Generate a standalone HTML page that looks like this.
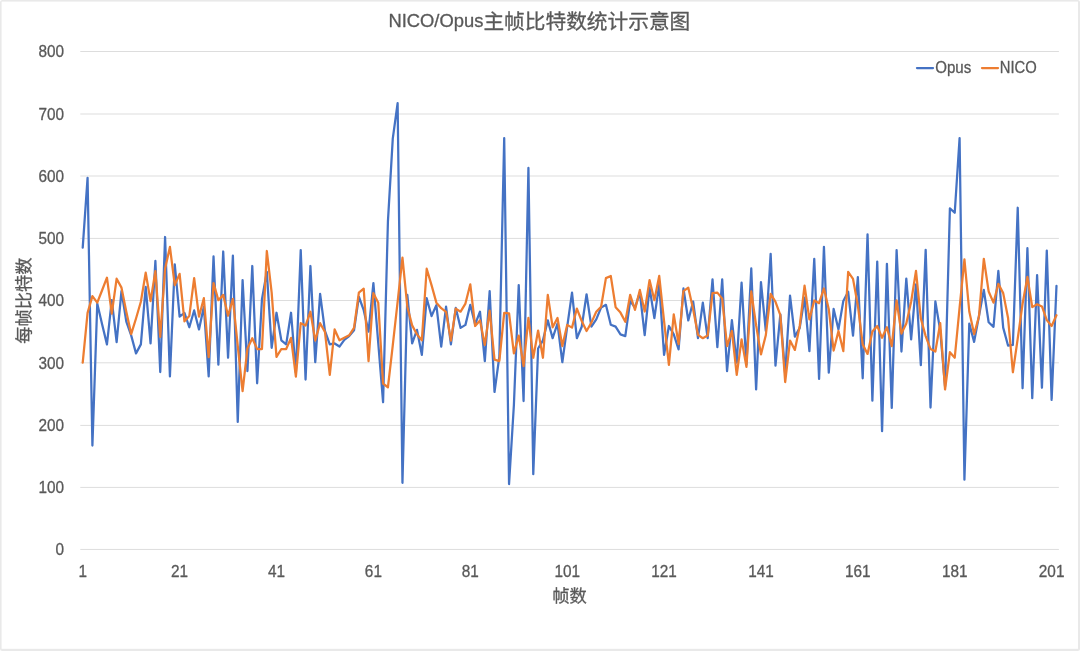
<!DOCTYPE html>
<html lang="zh">
<head>
<meta charset="utf-8">
<title>NICO/Opus主帧比特数统计示意图</title>
<style>
html, body { margin: 0; padding: 0; background: #ffffff; }
body { width: 1080px; height: 651px; overflow: hidden; position: relative;
  font-family: "Liberation Sans", "Noto Sans CJK SC", sans-serif; }
svg { position: absolute; left: 0; top: 0; display: block; }
svg text { font-family: "Liberation Sans", "Noto Sans CJK SC", sans-serif; fill: #595959; stroke: #595959; stroke-width: 0.3px; stroke-linejoin: round; }
.grid line { stroke: #dddddd; stroke-width: 1; }
.ylab text { font-size: 16.4px; text-anchor: end; }
.xlab text { font-size: 16.4px; text-anchor: middle; }
.cjk { font-size: 17.3px; text-anchor: middle; }
.series { fill: none; stroke-width: 2.25; stroke-linejoin: round; stroke-linecap: round; }
.opus { stroke: #4472c4; }
.nico { stroke: #ed7d31; }
.key { stroke-width: 2.3; stroke-linecap: round; }
.legend text { font-size: 16.4px; }
</style>
</head>
<body>
<svg width="1080" height="651" viewBox="0 0 1080 651" role="img" aria-label="NICO/Opus主帧比特数统计示意图">
<rect x="0" y="0" width="1080" height="651" fill="#ffffff"/>
<rect x="0" y="0" width="1080" height="651" rx="2.5" ry="2.5" fill="#e9e9e9"/>
<rect x="1.6" y="1.6" width="1076.4" height="647.2" fill="#ffffff"/>
<g class="grid">
<line x1="80.3" y1="51.50" x2="1058.9" y2="51.50"/>
<line x1="80.3" y1="114.00" x2="1058.9" y2="114.00"/>
<line x1="80.3" y1="176.00" x2="1058.9" y2="176.00"/>
<line x1="80.3" y1="238.40" x2="1058.9" y2="238.40"/>
<line x1="80.3" y1="300.50" x2="1058.9" y2="300.50"/>
<line x1="80.3" y1="362.80" x2="1058.9" y2="362.80"/>
<line x1="80.3" y1="425.40" x2="1058.9" y2="425.40"/>
<line x1="80.3" y1="487.40" x2="1058.9" y2="487.40"/>
<line x1="80.3" y1="549.45" x2="1058.9" y2="549.45"/>
</g>
<g class="ylab">
<text x="64.1" y="57.25" textLength="25.59" lengthAdjust="spacingAndGlyphs">800</text>
<text x="64.1" y="119.75" textLength="25.59" lengthAdjust="spacingAndGlyphs">700</text>
<text x="64.1" y="181.75" textLength="25.59" lengthAdjust="spacingAndGlyphs">600</text>
<text x="64.1" y="244.15" textLength="25.59" lengthAdjust="spacingAndGlyphs">500</text>
<text x="64.1" y="306.25" textLength="25.59" lengthAdjust="spacingAndGlyphs">400</text>
<text x="64.1" y="368.55" textLength="25.59" lengthAdjust="spacingAndGlyphs">300</text>
<text x="64.1" y="431.15" textLength="25.59" lengthAdjust="spacingAndGlyphs">200</text>
<text x="64.1" y="493.15" textLength="25.59" lengthAdjust="spacingAndGlyphs">100</text>
<text x="64.1" y="555.20" textLength="8.53" lengthAdjust="spacingAndGlyphs">0</text>
</g>
<g class="xlab">
<text x="82.72" y="577.3" textLength="8.53" lengthAdjust="spacingAndGlyphs">1</text>
<text x="179.61" y="577.3" textLength="17.06" lengthAdjust="spacingAndGlyphs">21</text>
<text x="276.50" y="577.3" textLength="17.06" lengthAdjust="spacingAndGlyphs">41</text>
<text x="373.40" y="577.3" textLength="17.06" lengthAdjust="spacingAndGlyphs">61</text>
<text x="470.29" y="577.3" textLength="17.06" lengthAdjust="spacingAndGlyphs">81</text>
<text x="567.18" y="577.3" textLength="25.59" lengthAdjust="spacingAndGlyphs">101</text>
<text x="664.07" y="577.3" textLength="25.59" lengthAdjust="spacingAndGlyphs">121</text>
<text x="760.96" y="577.3" textLength="25.59" lengthAdjust="spacingAndGlyphs">141</text>
<text x="857.85" y="577.3" textLength="25.59" lengthAdjust="spacingAndGlyphs">161</text>
<text x="954.74" y="577.3" textLength="25.59" lengthAdjust="spacingAndGlyphs">181</text>
<text x="1051.63" y="577.3" textLength="25.59" lengthAdjust="spacingAndGlyphs">201</text>
</g>
<text class="title" x="388.4" y="27.3"><tspan font-size="18.6" textLength="95" lengthAdjust="spacingAndGlyphs">NICO/Opus</tspan><tspan font-size="20.7" x="483.4" dy="1.8">主帧比特数统计示意图</tspan></text>
<text class="cjk" x="569.5" y="601.7">帧数</text>
<text class="cjk" transform="translate(29.9,300.6) rotate(-90)">每帧比特数</text>
<g class="legend">
<line class="key opus" x1="917" y1="68.1" x2="933" y2="68.1"/>
<text x="935.2" y="73.1" textLength="36" lengthAdjust="spacingAndGlyphs">Opus</text>
<line class="key nico" x1="982" y1="68.1" x2="998" y2="68.1"/>
<text x="999.8" y="73.1" textLength="37" lengthAdjust="spacingAndGlyphs">NICO</text>
</g>
<polyline class="series opus" points="82.72,247.58 87.57,177.87 92.41,445.51 97.26,303.60 102.10,324.14 106.95,344.37 111.79,300.17 116.63,342.19 121.48,291.15 126.32,321.65 131.17,335.34 136.01,353.39 140.86,344.37 145.70,286.79 150.55,343.43 155.39,260.96 160.24,372.06 165.08,237.00 169.92,376.42 174.77,264.39 179.61,316.67 184.46,312.93 189.30,327.25 194.15,310.44 198.99,329.43 203.84,306.71 208.68,376.42 213.53,256.48 218.37,364.59 223.21,251.50 228.06,357.75 232.90,255.67 237.75,421.86 242.59,280.13 247.44,371.07 252.28,266.00 257.13,383.27 261.97,299.24 266.82,271.86 271.66,347.79 276.50,312.75 281.35,340.32 286.19,344.37 291.04,312.75 295.88,372.69 300.73,250.13 305.57,379.53 310.42,266.00 315.26,362.23 320.11,293.83 324.95,330.98 329.79,344.37 334.64,343.43 339.48,346.54 344.33,339.88 349.17,336.09 354.02,330.36 358.86,296.75 363.71,310.13 368.55,331.61 373.40,283.18 378.24,342.81 383.08,402.25 387.93,221.44 392.77,138.66 397.62,103.18 402.46,482.85 407.31,294.88 412.15,343.43 417.00,329.93 421.84,354.88 426.69,298.18 431.53,316.05 436.37,305.15 441.22,346.54 446.06,306.71 450.91,344.37 455.75,307.95 460.60,327.87 465.44,324.88 470.29,304.84 475.13,324.39 479.98,311.69 484.82,361.05 489.66,291.15 494.51,391.98 499.35,356.50 504.20,138.04 509.04,484.10 513.89,405.05 518.73,285.17 523.58,401.07 528.42,167.91 533.27,474.14 538.11,348.54 542.95,340.32 547.80,320.40 552.64,338.20 557.49,323.52 562.33,362.23 567.18,326.88 572.02,292.64 576.87,338.20 581.71,326.81 586.56,294.26 591.40,326.63 596.25,319.35 601.09,307.64 605.93,304.84 610.78,324.76 615.62,326.63 620.47,334.35 625.31,336.09 630.16,301.11 635.00,307.64 639.85,292.64 644.69,335.22 649.54,287.66 654.38,318.16 659.22,284.30 664.07,354.88 668.91,326.00 673.76,334.41 678.60,349.41 683.45,288.47 688.29,320.47 693.14,301.48 697.98,338.20 702.83,302.66 707.67,338.20 712.51,279.32 717.36,347.23 722.20,279.32 727.05,371.07 731.89,320.22 736.74,362.73 741.58,282.69 746.43,364.59 751.27,268.49 756.12,389.49 760.96,282.12 765.80,330.98 770.65,253.81 775.49,365.59 780.34,314.43 785.18,373.93 790.03,295.51 794.87,336.59 799.72,327.87 804.56,297.62 809.41,351.09 814.25,258.78 819.09,378.91 823.94,246.83 828.78,372.69 833.63,308.89 838.47,329.43 843.32,300.98 848.16,291.77 853.01,335.59 857.85,277.15 862.70,378.29 867.54,234.32 872.38,400.69 877.23,261.52 882.07,431.19 886.92,263.76 891.76,407.85 896.61,250.07 901.45,351.52 906.30,278.51 911.14,339.39 915.99,284.30 920.83,365.22 925.67,249.82 930.52,407.54 935.36,301.48 940.21,330.36 945.05,386.38 949.90,208.37 954.74,212.73 959.59,138.04 964.43,479.74 969.28,323.52 974.12,341.88 978.96,316.05 983.81,289.91 988.65,322.27 993.50,326.81 998.34,270.98 1003.19,327.62 1008.03,345.55 1012.88,344.93 1017.72,207.75 1022.57,388.25 1027.41,248.20 1032.25,398.20 1037.10,275.15 1041.94,387.75 1046.79,250.51 1051.63,399.88 1056.48,285.98"/>
<polyline class="series nico" points="82.72,362.73 87.57,312.93 92.41,296.13 97.26,302.66 102.10,290.22 106.95,277.71 111.79,313.56 116.63,278.70 121.48,287.66 126.32,311.69 131.17,334.10 136.01,318.54 140.86,301.73 145.70,272.73 150.55,301.11 155.39,271.23 160.24,336.90 165.08,268.74 169.92,246.96 174.77,285.17 179.61,273.85 184.46,321.34 189.30,316.05 194.15,278.08 198.99,316.67 203.84,298.18 208.68,357.13 213.53,283.18 218.37,300.17 223.21,294.88 228.06,315.74 232.90,298.81 237.75,345.92 242.59,391.05 247.44,348.54 252.28,338.20 257.13,349.03 261.97,349.03 266.82,251.00 271.66,292.64 276.50,356.88 281.35,349.03 286.19,349.03 291.04,337.83 295.88,376.54 300.73,323.20 305.57,325.57 310.42,311.69 315.26,340.57 320.11,323.20 324.95,331.92 329.79,374.86 334.64,329.43 339.48,340.32 344.33,337.83 349.17,335.34 354.02,327.87 358.86,292.64 363.71,288.66 368.55,361.05 373.40,293.14 378.24,302.66 383.08,383.58 387.93,387.25 392.77,345.30 397.62,301.92 402.46,257.66 407.31,306.71 412.15,325.38 417.00,334.41 421.84,340.32 426.69,268.74 431.53,285.17 436.37,302.66 441.22,308.14 446.06,311.81 450.91,340.57 455.75,308.58 460.60,311.69 465.44,303.60 470.29,284.30 475.13,326.00 479.98,320.40 484.82,344.93 489.66,310.57 494.51,359.61 499.35,361.05 504.20,312.93 509.04,313.25 513.89,353.39 518.73,335.59 523.58,366.09 528.42,317.91 533.27,357.75 538.11,330.55 542.95,357.75 547.80,294.88 552.64,327.25 557.49,317.91 562.33,346.05 567.18,324.88 572.02,327.62 576.87,308.58 581.71,321.03 586.56,330.98 591.40,322.64 596.25,311.81 601.09,306.71 605.93,278.14 610.78,275.96 615.62,307.15 620.47,312.62 625.31,321.83 630.16,294.88 635.00,309.82 639.85,289.91 644.69,311.50 649.54,280.13 654.38,300.17 659.22,275.96 664.07,321.15 668.91,364.91 673.76,314.43 678.60,344.05 683.45,291.15 688.29,287.66 693.14,309.32 697.98,334.91 702.83,338.20 707.67,335.59 712.51,293.14 717.36,292.64 722.20,298.62 727.05,346.05 731.89,330.98 736.74,374.86 741.58,339.39 746.43,366.90 751.27,291.46 756.12,325.38 760.96,354.39 765.80,335.34 770.65,293.83 775.49,301.79 780.34,315.17 785.18,382.02 790.03,340.57 794.87,349.91 799.72,326.00 804.56,285.55 809.41,319.35 814.25,300.49 819.09,303.16 823.94,288.47 828.78,309.32 833.63,350.59 838.47,330.98 843.32,351.09 848.16,271.86 853.01,278.83 857.85,305.47 862.70,344.37 867.54,353.89 872.38,331.61 877.23,326.00 882.07,337.83 886.92,327.25 891.76,346.05 896.61,300.49 901.45,333.54 906.30,323.52 911.14,301.73 915.99,270.98 920.83,318.54 925.67,336.09 930.52,349.03 935.36,351.52 940.21,323.20 945.05,389.49 949.90,352.21 954.74,357.75 959.59,307.64 964.43,259.41 969.28,311.50 974.12,334.10 978.96,316.48 983.81,258.78 988.65,291.46 993.50,302.66 998.34,283.81 1003.19,293.14 1008.03,317.66 1012.88,372.25 1017.72,338.58 1022.57,303.91 1027.41,276.83 1032.25,307.15 1037.10,304.34 1041.94,306.46 1046.79,320.15 1051.63,326.00 1056.48,315.17"/>
</svg>
</body>
</html>
